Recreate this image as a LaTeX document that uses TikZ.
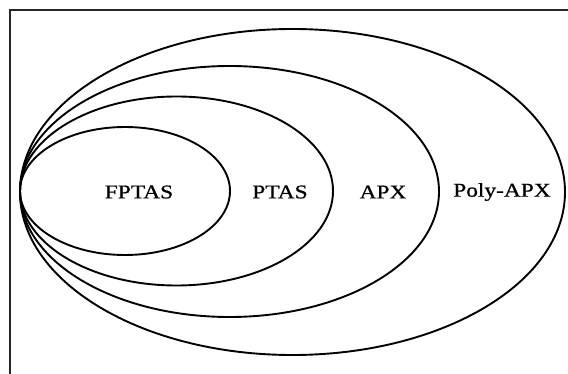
\documentclass[tikz,border=0pt]{standalone}
\usepackage{fontspec}
\setmainfont{Liberation Serif}
\newfontfamily\lblfont[FakeBold=0.6]{Liberation Serif}
\usetikzlibrary{shapes.geometric}
\begin{document}
\begin{tikzpicture}[x=1pt,y=-1pt,
  set/.style={draw=black,line width=1.9pt,ellipse,inner sep=0pt,minimum width=#1},
  lbl/.style={font=\lblfont\fontsize{19.5}{22}\selectfont,xscale=1.2,inner sep=0pt,text=black}]
\useasboundingbox (0,0) rectangle (568,374);
\clip (0,0) rectangle (568,374);
\fill[white] (0,0) rectangle (568,374);
\draw[line width=2pt,black!85] (10,10) rectangle (600,400);
\node[set=545pt,minimum height=326pt] (polyapx) at (292.5,192) {};
\node[set=419pt,minimum height=251pt] (apx) at (229.5,191.5) {};
\node[set=313pt,minimum height=189pt] (ptas) at (176.5,191) {};
\node[set=210pt,minimum height=128pt] (fptas) at (125,191) {};
\node[lbl] (tfptas) at (139,192) {FPTAS};
\node[lbl] (tptas) at (280,192) {PTAS};
\node[lbl] (tapx) at (383,192) {APX};
\node[lbl] (tpoly) at (502,192) {Poly-APX};
\end{tikzpicture}
\end{document}
